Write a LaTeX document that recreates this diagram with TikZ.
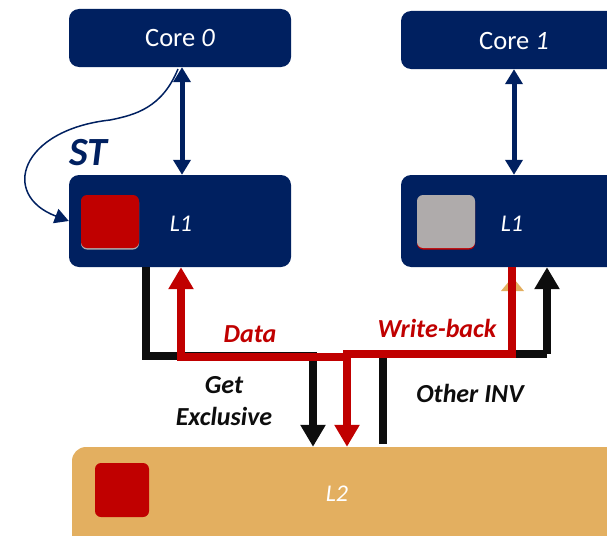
\documentclass[tikz,border=0pt]{standalone}
\usepackage{fontspec}
\setmainfont{Carlito}
\usetikzlibrary{arrows.meta}
\definecolor{navy}{HTML}{002060}
\definecolor{dred}{HTML}{C00000}
\definecolor{tanc}{HTML}{E3AF60}
\definecolor{sgray}{HTML}{AFABAB}
\definecolor{blk}{HTML}{0D0D0D}
\tikzset{
  box/.style={fill=navy, rounded corners=10pt, text=white, inner sep=0pt},
  sq/.style={rounded corners=6pt, inner sep=0pt, minimum width=58pt, minimum height=53pt},
  dbl/.style={draw=navy, line width=5pt, {Triangle[width=17pt,length=15pt]}-{Triangle[width=17pt,length=15pt]}},
  blkline/.style={draw=blk, line width=8pt},
  redline/.style={draw=dred, line width=8pt},
  tip/.style={-{Triangle[width=24pt,length=22pt]}},
  lbl/.style={font=\fontsize{26}{30}\selectfont\bfseries\itshape, align=center},
}
\begin{document}
\begin{tikzpicture}[x=1pt,y=-1pt]
\useasboundingbox (0,0) rectangle (607,535);
\clip (0,0) rectangle (607,535);
% boxes
\node[box, minimum width=222pt, minimum height=58pt, font=\fontsize{26.5}{30}\selectfont] (core0) at (180,38) {Core \textit{0}};
\node[box, minimum width=222pt, minimum height=58pt] (core1) at (512,40) {};
\node[text=white, font=\fontsize{26.5}{30}\selectfont] (core1t) at (514,41) {Core \textit{1}};
\node[box, minimum width=222pt, minimum height=92pt] (l1a) at (180,221) {};
\node[box, minimum width=222pt, minimum height=92pt] (l1b) at (512,221) {};
\node[fill=tanc, rounded corners=14pt, inner sep=0pt, minimum width=628pt, minimum height=153pt] (l2) at (386,523.5) {};
% squares
\node[sq, fill=sgray] (sh0) at (110,223) {};
\node[sq, fill=dred] (sq0) at (110,221.5) {};
\node[sq, fill=dred] (sh1) at (446,223) {};
\node[sq, fill=sgray] (sq1) at (446,221.5) {};
\node[sq, fill=dred, minimum width=54pt, minimum height=54pt] (sq2) at (122,490) {};
% labels inside
\node[text=white, font=\fontsize{24}{28}\selectfont\itshape] (l1at) at (181,224) {L1};
\node[text=white, font=\fontsize{24}{28}\selectfont\itshape] (l1bt) at (512,224) {L1};
\node[text=white, font=\fontsize{24}{28}\selectfont\itshape] (l2t) at (337,494) {L2};
% core <-> L1
\draw[dbl] (core0.south -| 182,0) -- (l1a.north -| 182,0);
\draw[dbl] (core1.south -| 514,0) -- (l1b.north -| 514,0);
% ST curve
\coordinate (stA) at (178,69);
\draw[navy, line width=1.5pt, -{Triangle[width=15pt,length=14pt]}] (stA) .. controls (162,108) and (135,115) .. (110,120) .. controls (20,130) and (0,195) .. (l1a.west);
\node[text=navy, font=\fontsize{40}{44}\selectfont\bfseries\itshape] (st) at (88,153) {ST};
% coordinates
\coordinate (ge) at (146,356);
\coordinate (gx) at (313,356);
\coordinate (dat) at (181,357);
\coordinate (dj) at (347,357);
\coordinate (wb) at (512,354);
\coordinate (wj) at (347,354);
\coordinate (oi) at (383,354);
\coordinate (oe) at (547,354);
% black lines
\draw[blkline, tip] (l1a.south -| ge) -- (ge) -- (gx) -- (l2.north -| gx);
\draw[blkline, line cap=butt] (l2.north -| oi) ++(0,-3) coordinate (oib) -- (oi) -- (oe);
\draw[blkline, tip] (oe) -- (l1b.south -| oe);
% tan arrowhead artifact
\fill[tanc] (501,291) -- (524,291) -- (512.5,277) -- cycle;
% red lines
\draw[redline, tip] (dj) -- (dat) -- (l1a.south -| dat);
\draw[redline, tip] (l1b.south -| wb) -- (wb) -- (wj) -- (l2.north -| wj);
% labels
\node[lbl, text=dred] (data) at (250,334) {Data};
\node[lbl, text=dred] (wbt) at (437,328) {Write-back};
\node[lbl, text=blk] (get) at (224,401) {Get\\[2pt]Exclusive};
\node[lbl, text=blk] (oth) at (470,393) {Other INV};
\end{tikzpicture}
\end{document}
